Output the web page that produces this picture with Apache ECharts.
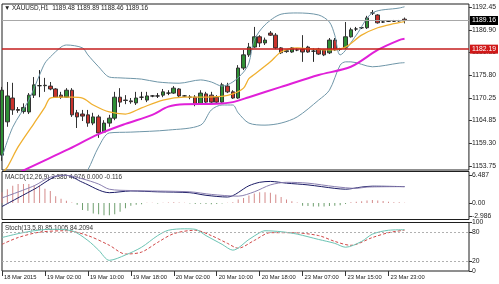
<!DOCTYPE html>
<html><head><meta charset="utf-8">
<script src="https://cdn.jsdelivr.net/npm/echarts@6/dist/echarts.min.js"></script>
<style>html,body{margin:0;padding:0;background:#fff}#c{width:499px;height:284px}</style>
</head><body><div id="c"></div>
<script>
// ---------- DATA ----------
const barCount = 88; // category slots (76 bars + empty right margin)
const categories = Array.from({length: barCount}, (_, i) => String(i));
const xTickLabels = ['18 Mar 2015','19 Mar 02:00','19 Mar 10:00','19 Mar 18:00','20 Mar 02:00','20 Mar 10:00','20 Mar 18:00','23 Mar 07:00','23 Mar 15:00','23 Mar 23:00'];
const priceTicks = [1153.75,1159.30,1164.85,1170.25,1175.80,1181.35,1186.90,1192.45];
const macdTicks = [6.487, 0, -2.986];
const macdTickLabels = ['6.487','0.00','-2.986'];
const stochTicks = [100, 80, 20, 0];
const currentPrice = 1189.16;
const levelPrice = 1182.19;

const openP = [1156.4,1164.5,1170.3,1167.5,1167.0,1166.9,1171.0,1173.3,1173.3,1173.2,
 1172.5,1171.0,1170.5,1172.2,1166.7,1166.4,1166.2,1164.2,1165.7,1162.0,
 1164.2,1165.4,1170.5,1169.8,1169.6,1169.1,1170.5,1169.8,1170.8,1170.8,
 1171.0,1171.5,1171.5,1172.5,1170.8,1170.5,1170.5,1168.8,1171.3,1171.0,
 1170.5,1169.3,1173.2,1171.8,1170.3,1177.6,1180.8,1182.7,1185.2,1183.7,
 1186.1,1185.6,1182.5,1181.6,1181.5,1182.0,1182.2,1182.7,1181.7,1182.2,
 1182.0,1181.3,1184.4,1182.2,1182.5,1185.2,1187.1,1187.4,1187.4,1191.0,
 1190.5,1188.8,1189.0,1189.0,1189.1,1189.48];
const closeP = [1172.2,1170.8,1167.4,1167.3,1168.0,1171.0,1173.5,1173.3,1173.4,1172.5,
 1170.5,1170.5,1172.2,1166.2,1165.7,1165.9,1164.2,1165.7,1161.8,1164.2,
 1165.4,1170.5,1169.3,1169.7,1169.4,1170.3,1170.5,1170.8,1170.8,1170.8,
 1171.8,1171.5,1172.7,1170.8,1170.8,1170.5,1168.8,1171.5,1169.3,1169.3,
 1169.3,1173.5,1171.8,1170.3,1177.6,1180.8,1182.7,1185.2,1183.7,1184.4,
 1185.6,1182.5,1181.3,1181.8,1182.5,1182.0,1181.5,1181.5,1181.7,1181.0,
 1180.8,1184.4,1182.0,1182.2,1185.2,1186.9,1187.1,1187.4,1189.8,1191.0,
 1188.6,1188.8,1189.0,1189.0,1189.1,1189.16];
const lowP = [1155.0,1163.3,1166.2,1166.7,1166.5,1166.4,1170.3,1170.5,1171.8,1172.2,
 1170.3,1170.1,1170.3,1165.7,1163.0,1164.7,1163.3,1163.7,1160.6,1161.8,
 1163.3,1164.9,1168.1,1168.8,1168.9,1168.6,1169.8,1169.3,1170.5,1170.3,
 1170.5,1171.0,1171.3,1170.5,1170.6,1170.0,1168.3,1168.6,1169.1,1169.1,
 1169.1,1169.1,1171.5,1170.1,1170.1,1177.1,1180.3,1182.5,1182.7,1183.2,
 1185.4,1182.2,1181.0,1181.3,1181.3,1181.7,1179.1,1181.3,1179.1,1180.8,
 1180.5,1181.0,1181.8,1181.8,1182.2,1185.0,1186.6,1187.1,1187.1,1190.5,
 1188.4,1188.6,1188.8,1188.8,1188.9,1188.46];
const highP = [1173.0,1174.2,1174.0,1168.1,1169.0,1171.5,1175.4,1177.1,1175.2,1174.2,
 1172.7,1171.8,1172.7,1172.7,1167.4,1167.4,1167.4,1166.7,1166.2,1164.9,
 1166.2,1171.8,1172.7,1171.0,1170.3,1171.8,1171.8,1171.8,1171.0,1171.5,
 1172.5,1172.2,1173.2,1172.7,1171.0,1171.0,1171.0,1172.2,1171.8,1171.8,
 1171.0,1174.0,1174.0,1172.2,1178.3,1182.0,1183.7,1187.6,1185.6,1185.0,
 1186.6,1186.1,1182.7,1182.2,1182.7,1182.4,1185.6,1183.0,1182.4,1182.5,
 1182.2,1184.9,1184.9,1182.5,1188.8,1187.4,1187.6,1187.6,1190.3,1191.7,
 1190.7,1189.0,1189.2,1189.3,1189.3,1189.89];

const orangeLine = [[0,1152.0],[1,1153.5],[3,1158.4],[6,1164.2],[8,1168.1],[9,1170.3],[11,1170.5],[13,1170.5],[15,1170.3],[17,1168.6],[20,1166.9],[23,1166.4],[26,1167.9],[30,1169.8],[34,1170.5],[37,1170.5],[41,1170.7],[43,1171.3],[45,1172.7],[46,1175.0],[47,1176.0],[50,1179.1],[52,1181.5],[55,1182.5],[58,1182.2],[61,1182.0],[64,1182.7],[67,1185.6],[70,1187.4],[73,1188.4],[75,1188.9]];
const magentaLine = [[0,1150.0],[5,1153.3],[12,1157.6],[18,1161.5],[23,1164.0],[28,1166.2],[31,1168.2],[34,1168.8],[40,1168.9],[43,1169.3],[46,1170.5],[52,1173.0],[59,1175.9],[65,1177.9],[70,1182.0],[74,1184.4],[75,1184.7]];
const upperBand = [[0,1155.9],[2,1163.2],[5,1169.8],[7,1175.9],[8,1178.8],[9,1180.3],[11,1182.7],[12,1183.2],[15,1182.5],[16,1180.8],[18,1177.9],[20,1175.4],[22,1175.2],[26,1174.9],[29,1174.2],[33,1173.9],[37,1174.7],[39,1174.2],[41,1173.2],[43,1174.2],[45,1176.6],[46,1178.8],[47,1184.4],[49,1188.1],[52,1190.7],[55,1191.0],[59,1190.5],[61,1188.8],[62,1185.6],[63,1180.8],[66,1185.6],[69,1191.0],[74,1192.2],[75,1192.5]];
const lowerBand = [[0,1148],[8,1143],[12,1145],[14,1149],[16,1152.8],[18,1158.4],[20,1161.8],[24,1162.0],[31,1162.5],[37,1163.7],[39,1167.4],[41,1168.6],[43,1168.6],[44,1166.7],[46,1164.2],[49,1163.7],[52,1164.2],[55,1165.7],[59,1169.8],[61,1172.2],[63,1178.3],[64,1179.1],[65,1179.1],[69,1177.9],[74,1178.8],[75,1178.9]];

const macdHist = [2.5,3.2,4.0,4.4,4.4,4.4,4.1,4.0,3.3,2.8,
 1.6,1.0,0.55,0.15,-0.4,-1.6,-1.8,-2.4,-2.6,-2.8,
 -2.8,-2.6,-2.0,-1.2,-0.6,-0.4,-0.25,0.1,0.05,-0.1,
 0.1,0.15,0.2,0.15,0.1,-0.1,-0.2,-0.15,-0.2,-0.25,
 -0.2,-0.1,0.1,0.2,0.8,1.2,1.75,2.2,2.5,2.5,
 2.4,2.0,1.4,0.8,0.4,0.15,-0.6,-0.7,-0.8,-0.8,
 -0.8,-0.7,-0.6,-0.5,-0.2,0.2,0.3,0.4,0.6,0.7,
 0.6,0.5,0.3,0.2,0.2,0.1];
const macdMain = [[0,-0.8],[6,3.2],[11,6.4],[12,6.4],[15,4.8],[20,2.4],[24,2.8],[29,2.6],[35,2.4],[38,1.8],[42,1.4],[46,4.0],[48,4.8],[50,5.0],[53,4.6],[57,4.2],[62,3.4],[64,3.2],[67,3.7],[69,3.9],[75,3.8]];
const macdSignal = [[0,1.2],[6,4.0],[9,6.0],[12,6.4],[15,5.6],[18,4.4],[20,3.2],[24,2.9],[35,2.6],[39,2.0],[44,1.6],[47,2.6],[50,4.2],[53,4.8],[57,4.6],[62,3.8],[66,3.4],[68,3.7],[75,3.8]];

const stochMain = [[0,69],[3,77],[6,83],[9,86],[13,83],[16,63],[18,43],[20,22],[23,33],[26,49],[29,73],[31,84],[34,87],[36,86],[38,73],[41,55],[43,43],[46,65],[48,79],[49,83],[52,81],[55,76],[59,65],[62,57],[64,49],[67,61],[69,76],[72,84],[75,85.1]];
const stochSignal = [[0,55],[3,69],[7,80],[12,83],[16,73],[20,53],[23,35],[26,39],[29,59],[32,77],[36,84],[39,73],[42,57],[44,47],[47,63],[50,79],[54,79],[59,73],[62,61],[65,53],[69,69],[72,79],[75,84.2]];

const titleText = '\u25BC XAUUSD,H1  1189.48 1189.89 1188.46 1189.16';
const macdTitle = 'MACD(12,26,9) 2.386 4.976 0.000 -0.116';
const stochTitle = 'Stoch(13,5,8) 85.1005 84.2094';

// ---------- CHART ----------
const FONT = 'Liberation Sans, Arial, sans-serif';
const candleData = openP.map((o, i) => [o, closeP[i], lowP[i], highP[i]]);
const histData = macdHist.map(v => ({value: v, itemStyle: {color: v >= 0 ? '#d48a8a' : '#6f9f6f'}}));
const tickEvery = (idx) => idx % 8 === 0 && idx / 8 < xTickLabels.length;

const chart = echarts.init(document.getElementById('c'), null, {renderer: 'canvas'});
const border = {show: true, borderColor: '#1e1e1e', borderWidth: 1, backgroundColor: '#fff'};
const hiddenX = (g) => ({type: 'category', gridIndex: g, data: categories, boundaryGap: false,
  axisLine: {show: false}, axisTick: {show: false}, axisLabel: {show: false}, splitLine: {show: false}});
const yLabel = {fontSize: 6.8, color: '#222', margin: 3, fontFamily: FONT};
const lineS = (x, y, data, color, width, extra) => Object.assign({
  type: 'line', xAxisIndex: x, yAxisIndex: y, data: data, symbol: 'none', smooth: 0.3,
  lineStyle: {color: color, width: width}, silent: true
}, extra || {});

chart.setOption({
  animation: false,
  backgroundColor: '#fff',
  grid: [
    Object.assign({left: 2, right: 30, top: 4, height: 166}, border),
    Object.assign({left: 2, right: 30, top: 171.5, height: 48}, border),
    Object.assign({left: 2, right: 30, top: 222.5, height: 48.5}, border)
  ],
  xAxis: [
    hiddenX(0), hiddenX(1),
    {type: 'category', gridIndex: 2, data: categories, boundaryGap: false,
      axisLine: {show: false},
      axisTick: {show: true, interval: tickEvery, length: 5, lineStyle: {color: '#333'}},
      axisLabel: {show: true, interval: tickEvery, align: 'left', margin: 3, padding: [0, 0, 0, 2],
        fontSize: 5.8, color: '#222', fontFamily: FONT,
        formatter: (v, idx) => xTickLabels[Math.round(idx / 8)] || ''},
      splitLine: {show: false}}
  ],
  yAxis: [
    {type: 'value', gridIndex: 0, position: 'right', min: 1152.78, max: 1193.18,
      splitLine: {show: false}, axisLine: {show: false},
      axisTick: {show: true, customValues: priceTicks, length: 3, lineStyle: {color: '#333'}},
      axisLabel: Object.assign({customValues: priceTicks, formatter: v => v.toFixed(2)}, yLabel)},
    {type: 'value', gridIndex: 1, position: 'right', min: -3.794, max: 7.295,
      splitLine: {show: false}, axisLine: {show: false},
      axisTick: {show: true, customValues: macdTicks, length: 3, lineStyle: {color: '#333'}},
      axisLabel: Object.assign({customValues: macdTicks, formatter: v => macdTickLabels[macdTicks.indexOf(v)]}, yLabel)},
    {type: 'value', gridIndex: 2, position: 'right', min: 0, max: 100,
      splitLine: {show: false}, axisLine: {show: false},
      axisTick: {show: true, customValues: stochTicks, length: 3, lineStyle: {color: '#333'}},
      axisLabel: Object.assign({customValues: stochTicks, formatter: v => String(v)}, yLabel)}
  ],
  series: [
    lineS(0, 0, upperBand, '#6f96a8', 1),
    lineS(0, 0, lowerBand, '#6f96a8', 1),
    lineS(0, 0, magentaLine, '#e020d8', 2),
    lineS(0, 0, orangeLine, '#f0b030', 1.3),
    {type: 'candlestick', xAxisIndex: 0, yAxisIndex: 0, data: candleData, barWidth: 4, silent: true,
      itemStyle: {color: '#2f8f35', color0: '#c8322c', borderColor: '#333', borderColor0: '#333',
        borderColorDoji: '#222', borderWidth: 1},
      markLine: {silent: true, symbol: ['none', 'none'], animation: false,
        data: [
          {yAxis: currentPrice, lineStyle: {color: '#a8a8a8', width: 1, type: 'solid'},
            label: {show: true, position: 'end', distance: 1, formatter: currentPrice.toFixed(2),
              backgroundColor: '#000', color: '#fff', padding: [1, 2, 1, 2], fontSize: 6.8, fontFamily: FONT}},
          {yAxis: levelPrice, lineStyle: {color: '#c41e1e', width: 1.5, type: 'solid'},
            label: {show: true, position: 'end', distance: 1, formatter: levelPrice.toFixed(2),
              backgroundColor: '#d01818', color: '#fff', padding: [1, 2, 1, 2], fontSize: 6.8, fontFamily: FONT}}
        ]}},
    {type: 'bar', xAxisIndex: 1, yAxisIndex: 1, data: histData, barWidth: 1, silent: true},
    lineS(1, 1, macdMain, '#1c1c66', 1),
    lineS(1, 1, macdSignal, '#8a7fb0', 1),
    lineS(2, 2, stochSignal, '#d04848', 1, {lineStyle: {color: '#d04848', width: 1, type: [3, 2]},
      markLine: {silent: true, symbol: ['none', 'none'], animation: false, label: {show: false},
        lineStyle: {color: '#b0b0b0', width: 1, type: [2, 2]},
        data: [{yAxis: 80}, {yAxis: 20}]}}),
    lineS(2, 2, stochMain, '#6cc4b4', 1)
  ],
  graphic: [
    {type: 'text', left: 4, top: 5, style: {text: titleText, fontSize: 6.4, fill: '#222', fontFamily: FONT}},
    {type: 'text', left: 5, top: 174, style: {text: macdTitle, fontSize: 6.4, fill: '#333', fontFamily: FONT}},
    {type: 'text', left: 5, top: 225, style: {text: stochTitle, fontSize: 6.4, fill: '#333', fontFamily: FONT}}
  ]
});
</script>
</body></html>
